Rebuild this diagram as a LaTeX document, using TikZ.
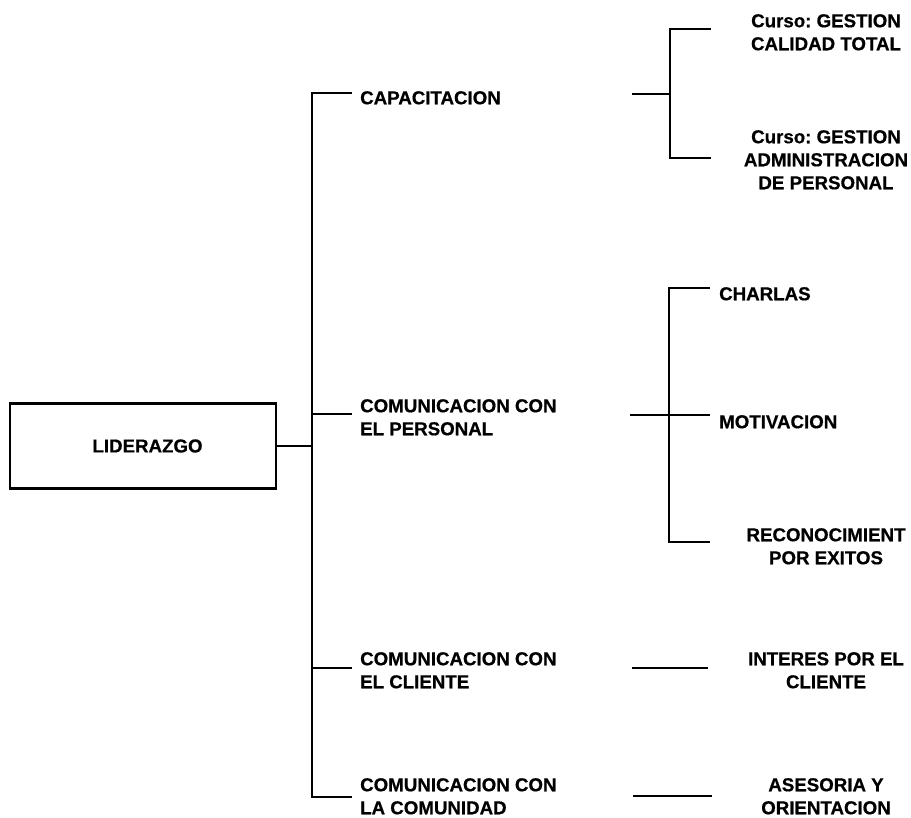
\documentclass[tikz,border=0pt]{standalone}
\usepackage{fontspec}
\setmainfont{Liberation Sans}[BoldFeatures={FakeBold=0.6}]
\frenchspacing
\begin{document}
\begin{tikzpicture}[x=1pt,y=-1pt,
  lbl/.style={font=\bfseries\fontsize{18.7}{23}\selectfont, inner sep=0pt, align=left, anchor=north west},
  rlbl/.style={font=\bfseries\fontsize{18.7}{23}\selectfont, inner sep=0pt, align=center, anchor=north},
  rootbox/.style={draw, line width=2.3pt, minimum width=266pt, minimum height=85pt, inner sep=0pt,
                  font=\bfseries\fontsize{18.7}{23}\selectfont},
  link/.style={line width=2.3pt}]
\useasboundingbox (0,0) rectangle (911,818);

% root
\node[rootbox] (lid) at (143,446) {\hspace*{9pt}LIDERAZGO};

% first level
\node[lbl] (cap) at (360,91) {CAPACITACION};
\node[lbl] (per) at (360,399) {COMUNICACION CON\\EL PERSONAL};
\node[lbl] (cli) at (360,652) {COMUNICACION CON\\EL CLIENTE};
\node[lbl] (com) at (360,778) {COMUNICACION CON\\LA COMUNIDAD};

% second level
\node[rlbl] (g1) at (826,14) {Curso: GESTION\\CALIDAD TOTAL};
\node[rlbl] (g2) at (826,130) {Curso: GESTION\\ADMINISTRACION\\DE PERSONAL};
\node[lbl] (cha) at (719,287) {CHARLAS};
\node[lbl] (mot) at (719,415) {MOTIVACION};
\node[rlbl] (rec) at (826,528) {RECONOCIMIENT\\POR EXITOS};
\node[rlbl] (int) at (826,652) {INTERES POR EL\\CLIENTE};
\node[rlbl] (ase) at (826,778) {ASESORIA Y\\ORIENTACION};

% main trunk
\coordinate (tr) at (312,446);
\coordinate (tTop) at (312,93);
\coordinate (tPer) at (312,414);
\coordinate (tCli) at (312,668);
\coordinate (tBot) at (312,797);
\coordinate (sCap) at (352,93);
\coordinate (sPer) at (352,414);
\coordinate (sCli) at (352,668);
\coordinate (sCom) at (352,797);

\draw[link] (lid.east) -- (tr);
\draw[link] (sCap) -- (tTop) -- (tBot) -- (sCom);
\draw[link] (tPer) -- (sPer);
\draw[link] (tCli) -- (sCli);

% bracket for the courses
\coordinate (c0) at (632,94);
\coordinate (c1) at (670,94);
\coordinate (cTop) at (670,29);
\coordinate (cBot) at (670,158);
\coordinate (cT) at (711,29);
\coordinate (cB) at (711,158);
\draw[link] (cT) -- (cTop) -- (cBot) -- (cB);
\draw[link] (c0) -- (c1);

% bracket for the staff communication
\coordinate (p0) at (630,415);
\coordinate (p1) at (710,415);
\coordinate (pTop) at (669,288);
\coordinate (pBot) at (669,542);
\coordinate (pT) at (710,288);
\coordinate (pB) at (710,542);
\draw[link] (pT) -- (pTop) -- (pBot) -- (pB);
\draw[link] (p0) -- (p1);

% single links
\coordinate (k0) at (632,668);
\coordinate (k1) at (708,668);
\coordinate (m0) at (633,796);
\coordinate (m1) at (712,796);
\draw[link] (k0) -- (k1);
\draw[link] (m0) -- (m1);
\end{tikzpicture}
\end{document}
